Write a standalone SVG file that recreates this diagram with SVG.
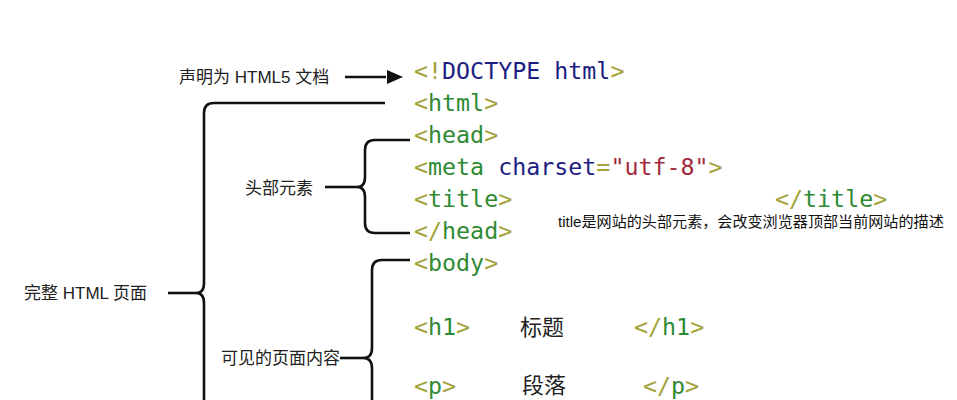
<svg xmlns="http://www.w3.org/2000/svg" width="957" height="400" viewBox="0 0 957 400">
<style>
.code{font-family:"DejaVu Sans Mono","Liberation Mono",monospace;font-size:23.3px;}
.b{fill:#a3a33a;}
.t{fill:#2f8a34;}
.n{fill:#1e1e82;}
.s{fill:#a12a3c;}
.lbl{font-family:"Liberation Sans","Noto Sans CJK SC",sans-serif;font-size:17px;fill:#222;}
.cjk{font-family:"Noto Sans CJK SC","Liberation Sans",sans-serif;font-size:22px;fill:#222;}
.note{font-family:"Liberation Sans","Noto Sans CJK SC",sans-serif;font-size:15.1px;fill:#111;}
.ln{fill:none;stroke:#111;stroke-width:2.6;}
</style>
<rect width="957" height="400" fill="#fff"/>
<g id="connectors">
<path class="ln" d="M345 77 H386"/>
<path d="M387 70 L403 77 L387 84 z" fill="#111"/>
<path class="ln" d="M385 103 H214 Q204 103 204 113 V283 Q204 293 196 293 Q204 293 204 303 V420"/>
<path class="ln" d="M168 293 H196"/>
<path class="ln" d="M410 140 H375 Q365 140 365 150 V177 Q365 187 357 187 Q365 187 365 197 V223 Q365 233 375 233 H410"/>
<path class="ln" d="M325 187 H357"/>
<path class="ln" d="M410 260 H382 Q372 260 372 270 V348 Q372 358 363 358 Q372 358 372 368 V420"/>
<path class="ln" d="M340 358 H363"/>
</g>
<g id="code">
<text class="code" x="414" y="79"><tspan class="b">&lt;!</tspan><tspan class="n">DOCTYPE html</tspan><tspan class="b">&gt;</tspan></text>
<text class="code" x="414" y="111"><tspan class="b">&lt;</tspan><tspan class="t">html</tspan><tspan class="b">&gt;</tspan></text>
<text class="code" x="414" y="143"><tspan class="b">&lt;</tspan><tspan class="t">head</tspan><tspan class="b">&gt;</tspan></text>
<text class="code" x="414" y="175" xml:space="preserve"><tspan class="b">&lt;</tspan><tspan class="t">meta</tspan> <tspan class="n">charset</tspan><tspan class="b">=</tspan><tspan class="s">"utf-8"</tspan><tspan class="b">&gt;</tspan></text>
<text class="code" x="414" y="207"><tspan class="b">&lt;</tspan><tspan class="t">title</tspan><tspan class="b">&gt;</tspan></text>
<text class="code" x="775" y="207"><tspan class="b">&lt;/</tspan><tspan class="t">title</tspan><tspan class="b">&gt;</tspan></text>
<text class="code" x="414" y="239"><tspan class="b">&lt;/</tspan><tspan class="t">head</tspan><tspan class="b">&gt;</tspan></text>
<text class="code" x="414" y="271"><tspan class="b">&lt;</tspan><tspan class="t">body</tspan><tspan class="b">&gt;</tspan></text>
<text class="code" x="414" y="335"><tspan class="b">&lt;</tspan><tspan class="t">h1</tspan><tspan class="b">&gt;</tspan></text>
<text class="cjk" x="520" y="335">标题</text>
<text class="code" x="634" y="335"><tspan class="b">&lt;/</tspan><tspan class="t">h1</tspan><tspan class="b">&gt;</tspan></text>
<text class="code" x="414" y="394"><tspan class="b">&lt;</tspan><tspan class="t">p</tspan><tspan class="b">&gt;</tspan></text>
<text class="cjk" x="522" y="393">段落</text>
<text class="code" x="643" y="394"><tspan class="b">&lt;/</tspan><tspan class="t">p</tspan><tspan class="b">&gt;</tspan></text>
</g>
<g id="note-title"><text class="note" x="558" y="227">title是网站的头部元素，会改变浏览器顶部当前网站的描述</text></g>
<g id="label-doctype"><text class="lbl" x="179" y="83">声明为 HTML5 文档</text></g>
<g id="label-page"><text class="lbl" x="24" y="299">完整 HTML 页面</text></g>
<g id="label-head"><text class="lbl" x="245" y="194">头部元素</text></g>
<g id="label-body"><text class="lbl" x="221" y="364">可见的页面内容</text></g>
</svg>
